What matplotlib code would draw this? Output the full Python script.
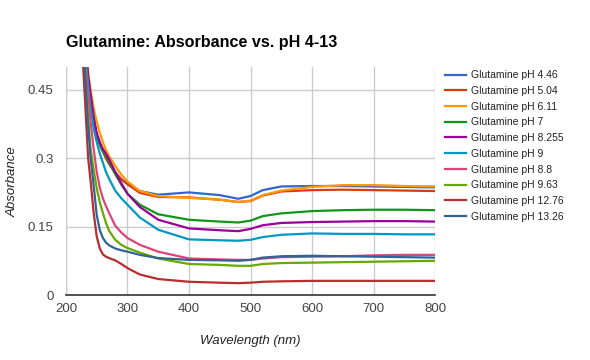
import matplotlib
matplotlib.use("Agg")
import matplotlib.pyplot as plt

plt.rcParams["font.family"] = ["Liberation Sans", "DejaVu Sans"]

# wavelength grid (nm) shared by every series
wavelength = [228, 232, 236, 240, 245, 250, 255, 260, 265, 270, 280, 290, 300,
              320, 350, 400, 450, 480, 500, 520, 550, 600, 650, 700, 750, 800]

labels = ["Glutamine pH 4.46", "Glutamine pH 5.04", "Glutamine pH 6.11",
          "Glutamine pH 7", "Glutamine pH 8.255", "Glutamine pH 9",
          "Glutamine pH 8.8", "Glutamine pH 9.63", "Glutamine pH 12.76",
          "Glutamine pH 13.26"]

ph_446 = [0.62, 0.52, 0.46, 0.42, 0.38, 0.35, 0.33, 0.315, 0.30, 0.288, 0.268, 0.254, 0.243,
          0.228, 0.220, 0.225, 0.219, 0.211, 0.217, 0.230, 0.238, 0.239, 0.239, 0.238, 0.237, 0.236]
ph_504 = [0.62, 0.52, 0.46, 0.42, 0.38, 0.35, 0.33, 0.315, 0.30, 0.288, 0.268, 0.254, 0.243,
          0.224, 0.215, 0.214, 0.209, 0.204, 0.206, 0.218, 0.227, 0.230, 0.231, 0.230, 0.229, 0.228]
ph_611 = [0.64, 0.55, 0.49, 0.45, 0.41, 0.38, 0.355, 0.335, 0.318, 0.305, 0.283, 0.264, 0.249,
          0.228, 0.217, 0.213, 0.209, 0.204, 0.207, 0.219, 0.229, 0.237, 0.241, 0.241, 0.239, 0.238]
ph_7 = [0.63, 0.53, 0.47, 0.43, 0.385, 0.35, 0.33, 0.315, 0.305, 0.292, 0.265, 0.242, 0.222,
        0.198, 0.177, 0.165, 0.161, 0.159, 0.163, 0.173, 0.179, 0.184, 0.186, 0.187, 0.187, 0.186]
ph_8255 = [0.64, 0.54, 0.48, 0.44, 0.39, 0.355, 0.335, 0.32, 0.31, 0.298, 0.27, 0.245, 0.222,
           0.193, 0.165, 0.146, 0.142, 0.140, 0.145, 0.153, 0.158, 0.160, 0.161, 0.162, 0.162, 0.161]
ph_9 = [0.62, 0.52, 0.46, 0.41, 0.365, 0.335, 0.31, 0.29, 0.27, 0.255, 0.229, 0.212, 0.198,
        0.170, 0.143, 0.122, 0.120, 0.119, 0.121, 0.127, 0.132, 0.135, 0.134, 0.134, 0.133, 0.133]
ph_88 = [0.60, 0.50, 0.44, 0.38, 0.32, 0.27, 0.235, 0.212, 0.195, 0.18, 0.152, 0.137, 0.125,
         0.110, 0.095, 0.080, 0.078, 0.077, 0.077, 0.080, 0.083, 0.084, 0.085, 0.087, 0.088, 0.088]
ph_963 = [0.58, 0.47, 0.39, 0.32, 0.275, 0.234, 0.203, 0.180, 0.158, 0.141, 0.121, 0.110, 0.103,
          0.093, 0.080, 0.068, 0.066, 0.064, 0.064, 0.068, 0.070, 0.071, 0.072, 0.073, 0.074, 0.075]
ph_1276 = [0.50, 0.40, 0.30, 0.25, 0.18, 0.128, 0.102, 0.089, 0.084, 0.081, 0.076, 0.068, 0.059,
           0.045, 0.035, 0.029, 0.027, 0.026, 0.027, 0.029, 0.030, 0.031, 0.031, 0.031, 0.031, 0.031]
ph_1326 = [0.56, 0.46, 0.37, 0.30, 0.24, 0.175, 0.142, 0.125, 0.115, 0.109, 0.102, 0.098, 0.095,
           0.088, 0.081, 0.077, 0.076, 0.075, 0.077, 0.082, 0.085, 0.086, 0.085, 0.084, 0.083, 0.082]

series = [ph_446, ph_504, ph_611, ph_7, ph_8255, ph_9, ph_88, ph_963, ph_1276, ph_1326]
colors = ["#3366cc", "#dc3912", "#ff9900", "#109618", "#990099",
          "#0099c6", "#dd4477", "#66aa00", "#b82e2e", "#316395"]

fig = plt.figure(figsize=(5.9, 3.6), dpi=100)
ax = fig.add_axes([66 / 590, 65 / 360, 369 / 590, 228 / 360])

for vals, lab, col in zip(series, labels, colors):
    ax.plot(wavelength, vals, color=col, lw=1.6, label=lab, solid_joinstyle="round")

ax.set_xlim(200, 800)
ax.set_ylim(0, 0.5)
ax.set_xticks([200, 300, 400, 500, 600, 700, 800])
ax.set_yticks([0, 0.15, 0.3, 0.45])
ax.set_yticklabels(["0", "0.15", "0.3", "0.45"])
ax.grid(True, color="#cccccc", lw=1)
ax.set_axisbelow(True)
for side in ["top", "right", "left"]:
    ax.spines[side].set_visible(False)
ax.spines["bottom"].set_color("#333333")
ax.spines["bottom"].set_linewidth(1.2)
ax.axvline(200, color="#cccccc", lw=1, zorder=0)
ax.tick_params(axis="y", length=0, labelsize=9.5, colors="#444444", pad=9)
ax.tick_params(axis="x", length=0, labelsize=9.5, colors="#444444", pad=6)

fig.text(250 / 590, 1 - 341 / 360, "Wavelength (nm)", fontsize=9.5, style="italic",
         color="#222222", ha="center", va="center")
fig.text(13 / 590, 1 - 182 / 360, "Absorbance", fontsize=9.5, style="italic",
         color="#222222", ha="center", va="center", rotation=90)

fig.text(66 / 590, 1 - 42 / 360, "Glutamine: Absorbance vs. pH 4-13", fontsize=11.6,
         fontweight="bold", color="#000000", va="center", ha="left")

ax.legend(loc="upper left", bbox_to_anchor=(441 / 590, 1 - 66 / 360),
          bbox_transform=fig.transFigure, frameon=False, fontsize=7.5,
          handlelength=2.0, handletextpad=0.5, labelspacing=0.55, borderaxespad=0,
          labelcolor="#222222")

fig.savefig("out.png", dpi=100)
